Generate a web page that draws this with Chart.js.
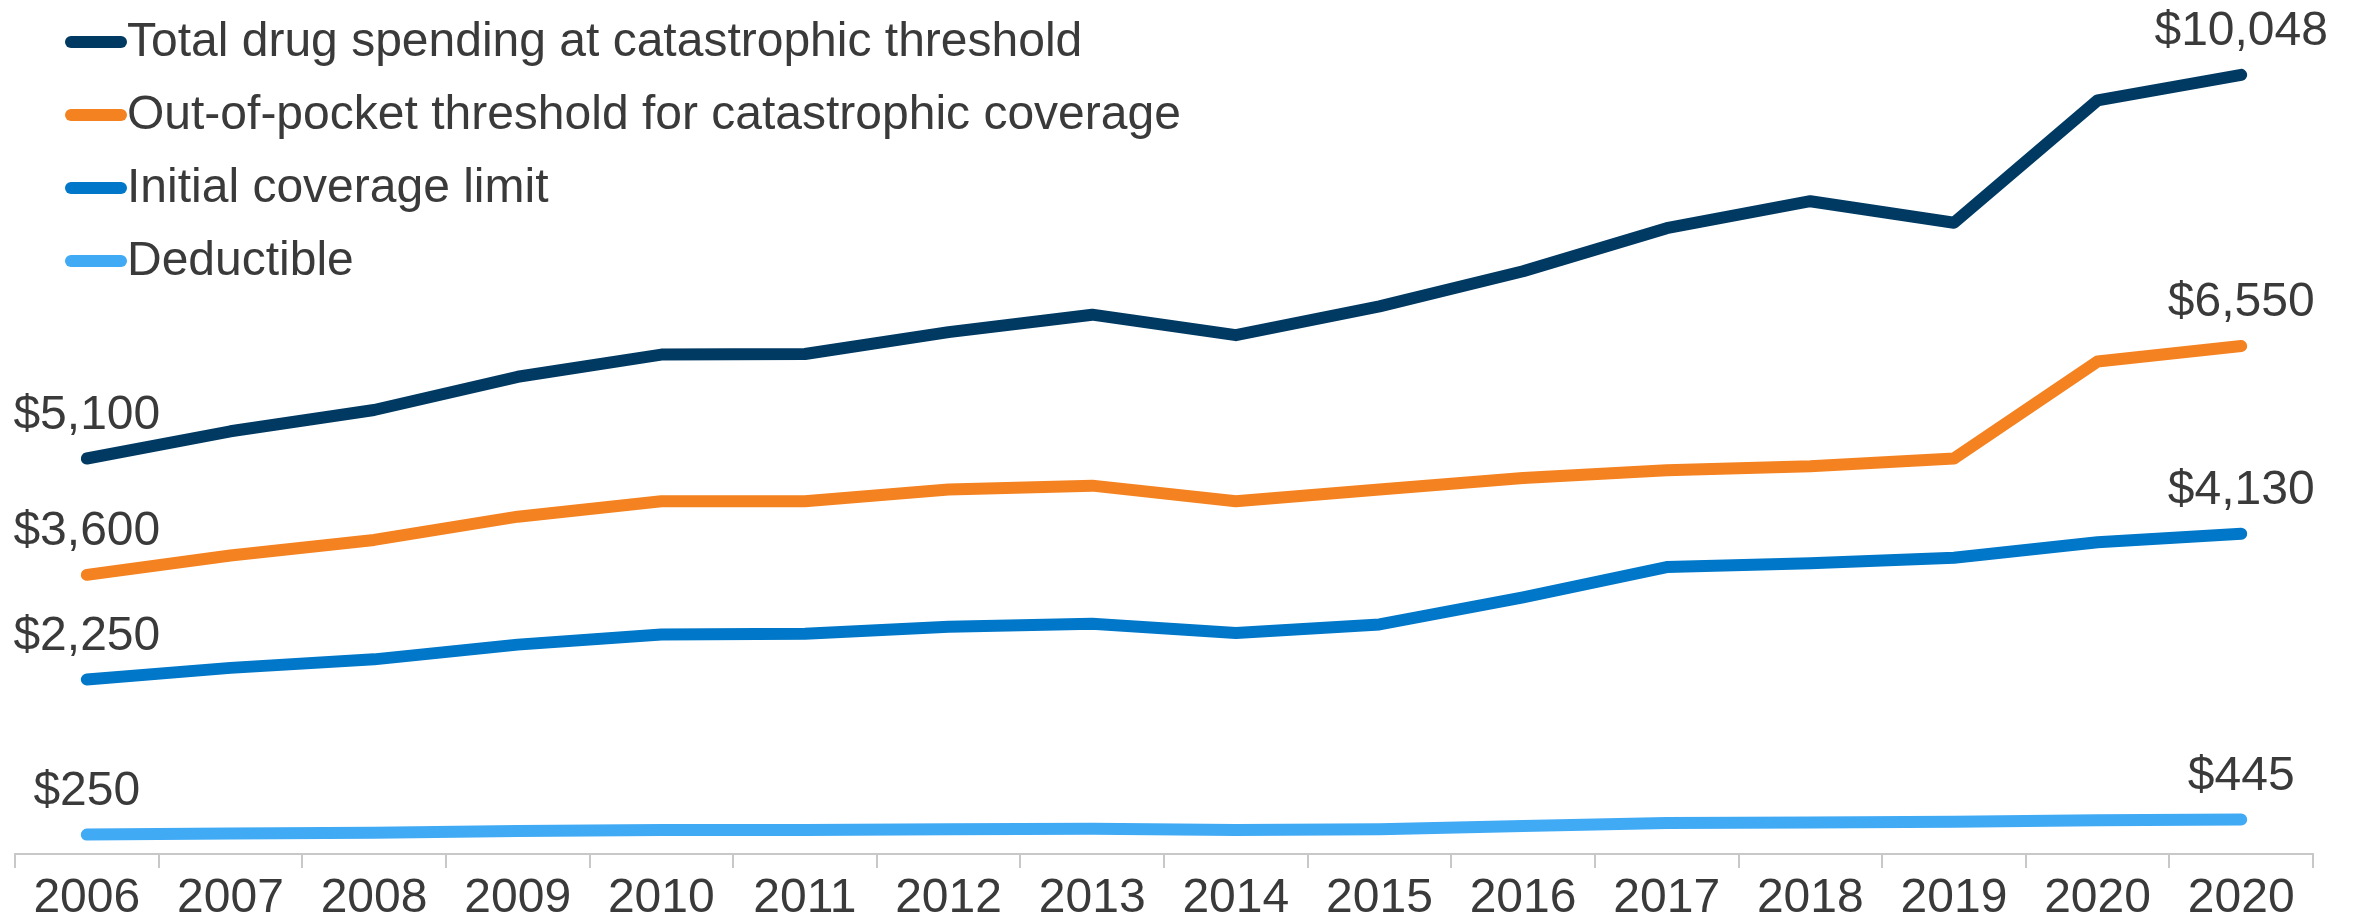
<!DOCTYPE html>
<html>
<head>
<meta charset="utf-8">
<script src="https://cdn.jsdelivr.net/npm/chart.js@4"></script>
<style>
  html, body { margin: 0; padding: 0; background: #fff; }
  #wrap { width: 2356px; height: 923px; }
</style>
</head>
<body>
<div id="wrap"><canvas id="myChart"></canvas></div>
<script>
// x categories, as printed on the chart (last one really is 2021)
const years = ['2006','2007','2008','2009','2010','2011','2012','2013','2014','2015','2016','2017','2018','2019','2020','2020'];

const totalSpending = [5100, 5451, 5726, 6154, 6440, 6448, 6730, 6955, 6691, 7062, 7515, 8071, 8418, 8140, 9719, 10048];
const oopThreshold  = [3600, 3850, 4050, 4350, 4550, 4550, 4700, 4750, 4550, 4700, 4850, 4950, 5000, 5100, 6350, 6550];
const initialLimit  = [2250, 2400, 2510, 2700, 2830, 2840, 2930, 2970, 2850, 2960, 3310, 3700, 3750, 3820, 4020, 4130];
const deductible    = [250, 265, 275, 295, 310, 310, 320, 325, 310, 320, 360, 400, 405, 415, 435, 445];

const seriesNames  = ['Total drug spending at catastrophic threshold', 'Out-of-pocket threshold for catastrophic coverage', 'Initial coverage limit', 'Deductible'];
const seriesColors = ['#003a63', '#f58220', '#0077c8', '#41aaf5'];

const FONT = '"Liberation Sans", Arial, sans-serif';
const TEXT = '#3a3a3a';

function fmt(v) {
  return '$' + v.toLocaleString('en-US');
}

// legend in the top-left corner, one row per series
const legendPlugin = {
  id: 'legendRows',
  afterDraw(chart) {
    const ctx = chart.ctx;
    ctx.save();
    ctx.font = '48px ' + FONT;
    ctx.textBaseline = 'middle';
    ctx.textAlign = 'left';
    chart.data.datasets.forEach((ds, i) => {
      const y = 42 + i * 73;
      ctx.strokeStyle = ds.borderColor;
      ctx.lineWidth = 12;
      ctx.lineCap = 'round';
      ctx.beginPath();
      ctx.moveTo(71, y);
      ctx.lineTo(121, y);
      ctx.stroke();
      ctx.fillStyle = TEXT;
      ctx.fillText(ds.label, 127, y + 1);
    });
    ctx.restore();
  }
};

// first and last value above each line
const endLabels = {
  id: 'endLabels',
  afterDatasetsDraw(chart) {
    const ctx = chart.ctx;
    ctx.save();
    ctx.font = '48px ' + FONT;
    ctx.fillStyle = TEXT;
    ctx.textBaseline = 'middle';
    ctx.textAlign = 'center';
    chart.data.datasets.forEach((ds, i) => {
      const pts = chart.getDatasetMeta(i).data;
      [0, pts.length - 1].forEach(k => {
        const p = pts[k];
        ctx.fillText(fmt(ds.data[k]), p.x, p.y - 43);
      });
    });
    ctx.restore();
  }
};

const allSeries = [totalSpending, oopThreshold, initialLimit, deductible];

const ctx = document.getElementById('myChart').getContext('2d');
const myChart = new Chart(ctx, {
  type: 'line',
  data: {
    labels: years,
    datasets: allSeries.map((vals, i) => ({
      label: seriesNames[i],
      data: vals,
      borderColor: seriesColors[i],
      backgroundColor: seriesColors[i],
      borderWidth: 12,
      borderCapStyle: 'round',
      borderJoinStyle: 'round',
      pointRadius: 0,
      tension: 0,
      clip: false
    }))
  },
  options: {
    responsive: true,
    maintainAspectRatio: false,
    animation: false,
    layout: { padding: { left: 15, right: 43, top: 1, bottom: 0 } },
    plugins: {
      legend: { display: false },
      tooltip: { enabled: false }
    },
    scales: {
      x: {
        offset: true,
        grid: {
          offset: true,
          drawOnChartArea: false,
          drawTicks: true,
          tickLength: 14,
          color: '#c8c8c8',
          lineWidth: 2
        },
        border: { display: true, color: '#c8c8c8', width: 2 },
        ticks: {
          color: TEXT,
          font: { family: FONT, size: 48, lineHeight: 1.2 },
          padding: 2,
          maxRotation: 0,
          autoSkip: false
        },
        afterFit(scale) { scale.height = 69; }
      },
      y: {
        display: false,
        min: 0,
        max: 11000
      }
    }
  },
  plugins: [legendPlugin, endLabels]
});
</script>
</body>
</html>
